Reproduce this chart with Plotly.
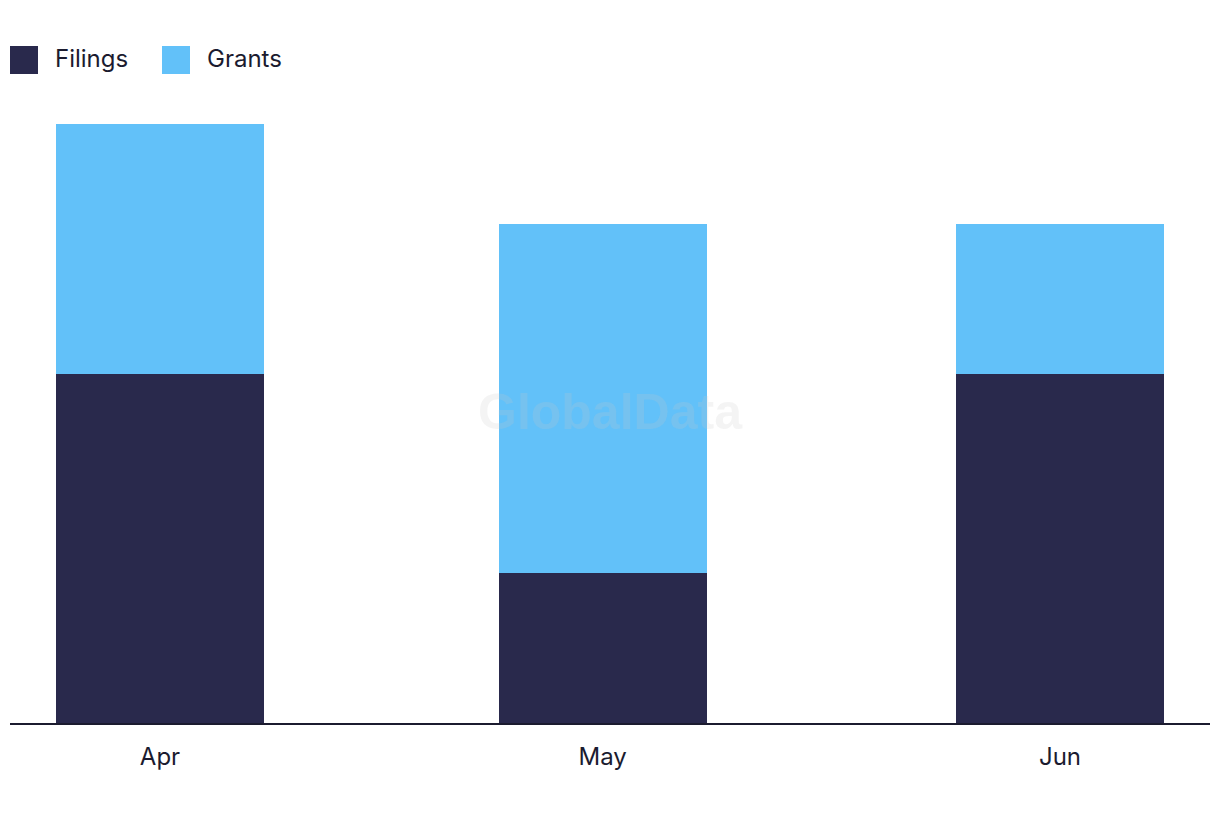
import plotly.graph_objects as go

months = ["2024-04-01", "2024-05-01", "2024-06-01"]
tick_labels = ["Apr", "May", "Jun"]
filings = [7, 3, 7]
grants = [5, 7, 3]

DARK = "#29294c"
LIGHT = "#62c1f9"
TEXT = "#1b1b2f"
FONT = "Inter"

bar_width_ms = 14.1 * 24 * 3600 * 1000

fig = go.Figure()
fig.add_trace(go.Bar(x=months, y=filings, name="Filings", marker_color=DARK,
                     marker_line_width=0, width=bar_width_ms, showlegend=False))
fig.add_trace(go.Bar(x=months, y=grants, name="Grants", marker_color=LIGHT,
                     marker_line_width=0, width=bar_width_ms, showlegend=False))

# custom legend (screen coords relative to plot area 10..1210 x, 124..723 y)
legend_items = [("Filings", DARK, 10), ("Grants", LIGHT, 162)]
for name, color, x0 in legend_items:
    fig.add_shape(type="rect", xref="paper", yref="paper",
                  x0=(x0 - 10) / 1200, x1=(x0 + 18) / 1200,
                  y0=(723 - 74) / 599, y1=(723 - 46) / 599,
                  fillcolor=color, line_width=0, layer="above")
    fig.add_annotation(text=name, xref="paper", yref="paper",
                       x=(x0 + 43 - 10) / 1200, y=(723 - 58) / 599,
                       xanchor="left", yanchor="middle", showarrow=False,
                       font=dict(family=FONT, size=24, color=TEXT))

fig.add_annotation(text="<b>GlobalData</b>", xref="paper", yref="paper",
                   x=0.5, y=(723 - 412) / 599, showarrow=False,
                   font=dict(family="Liberation Sans", size=50,
                             color="rgba(200,200,200,0.2)"))

fig.update_layout(
    barmode="stack",
    width=1220, height=822,
    margin=dict(l=2, r=18, t=116, b=107),
    plot_bgcolor="white", paper_bgcolor="white",
    font=dict(family=FONT, size=24, color=TEXT),
    xaxis=dict(type="date", range=["2024-03-21 20:00", "2024-06-11 04:00"],
               tickvals=months, ticktext=tick_labels,
               showgrid=False, showline=True, linecolor=TEXT, linewidth=2,
               ticks="outside", ticklen=11, tickcolor="rgba(0,0,0,0)",
               tickfont=dict(family=FONT, size=24, color=TEXT)),
    yaxis=dict(range=[0, 12], showgrid=False, showticklabels=False,
               zeroline=False, showline=False),
)

fig.write_html("out.html")
